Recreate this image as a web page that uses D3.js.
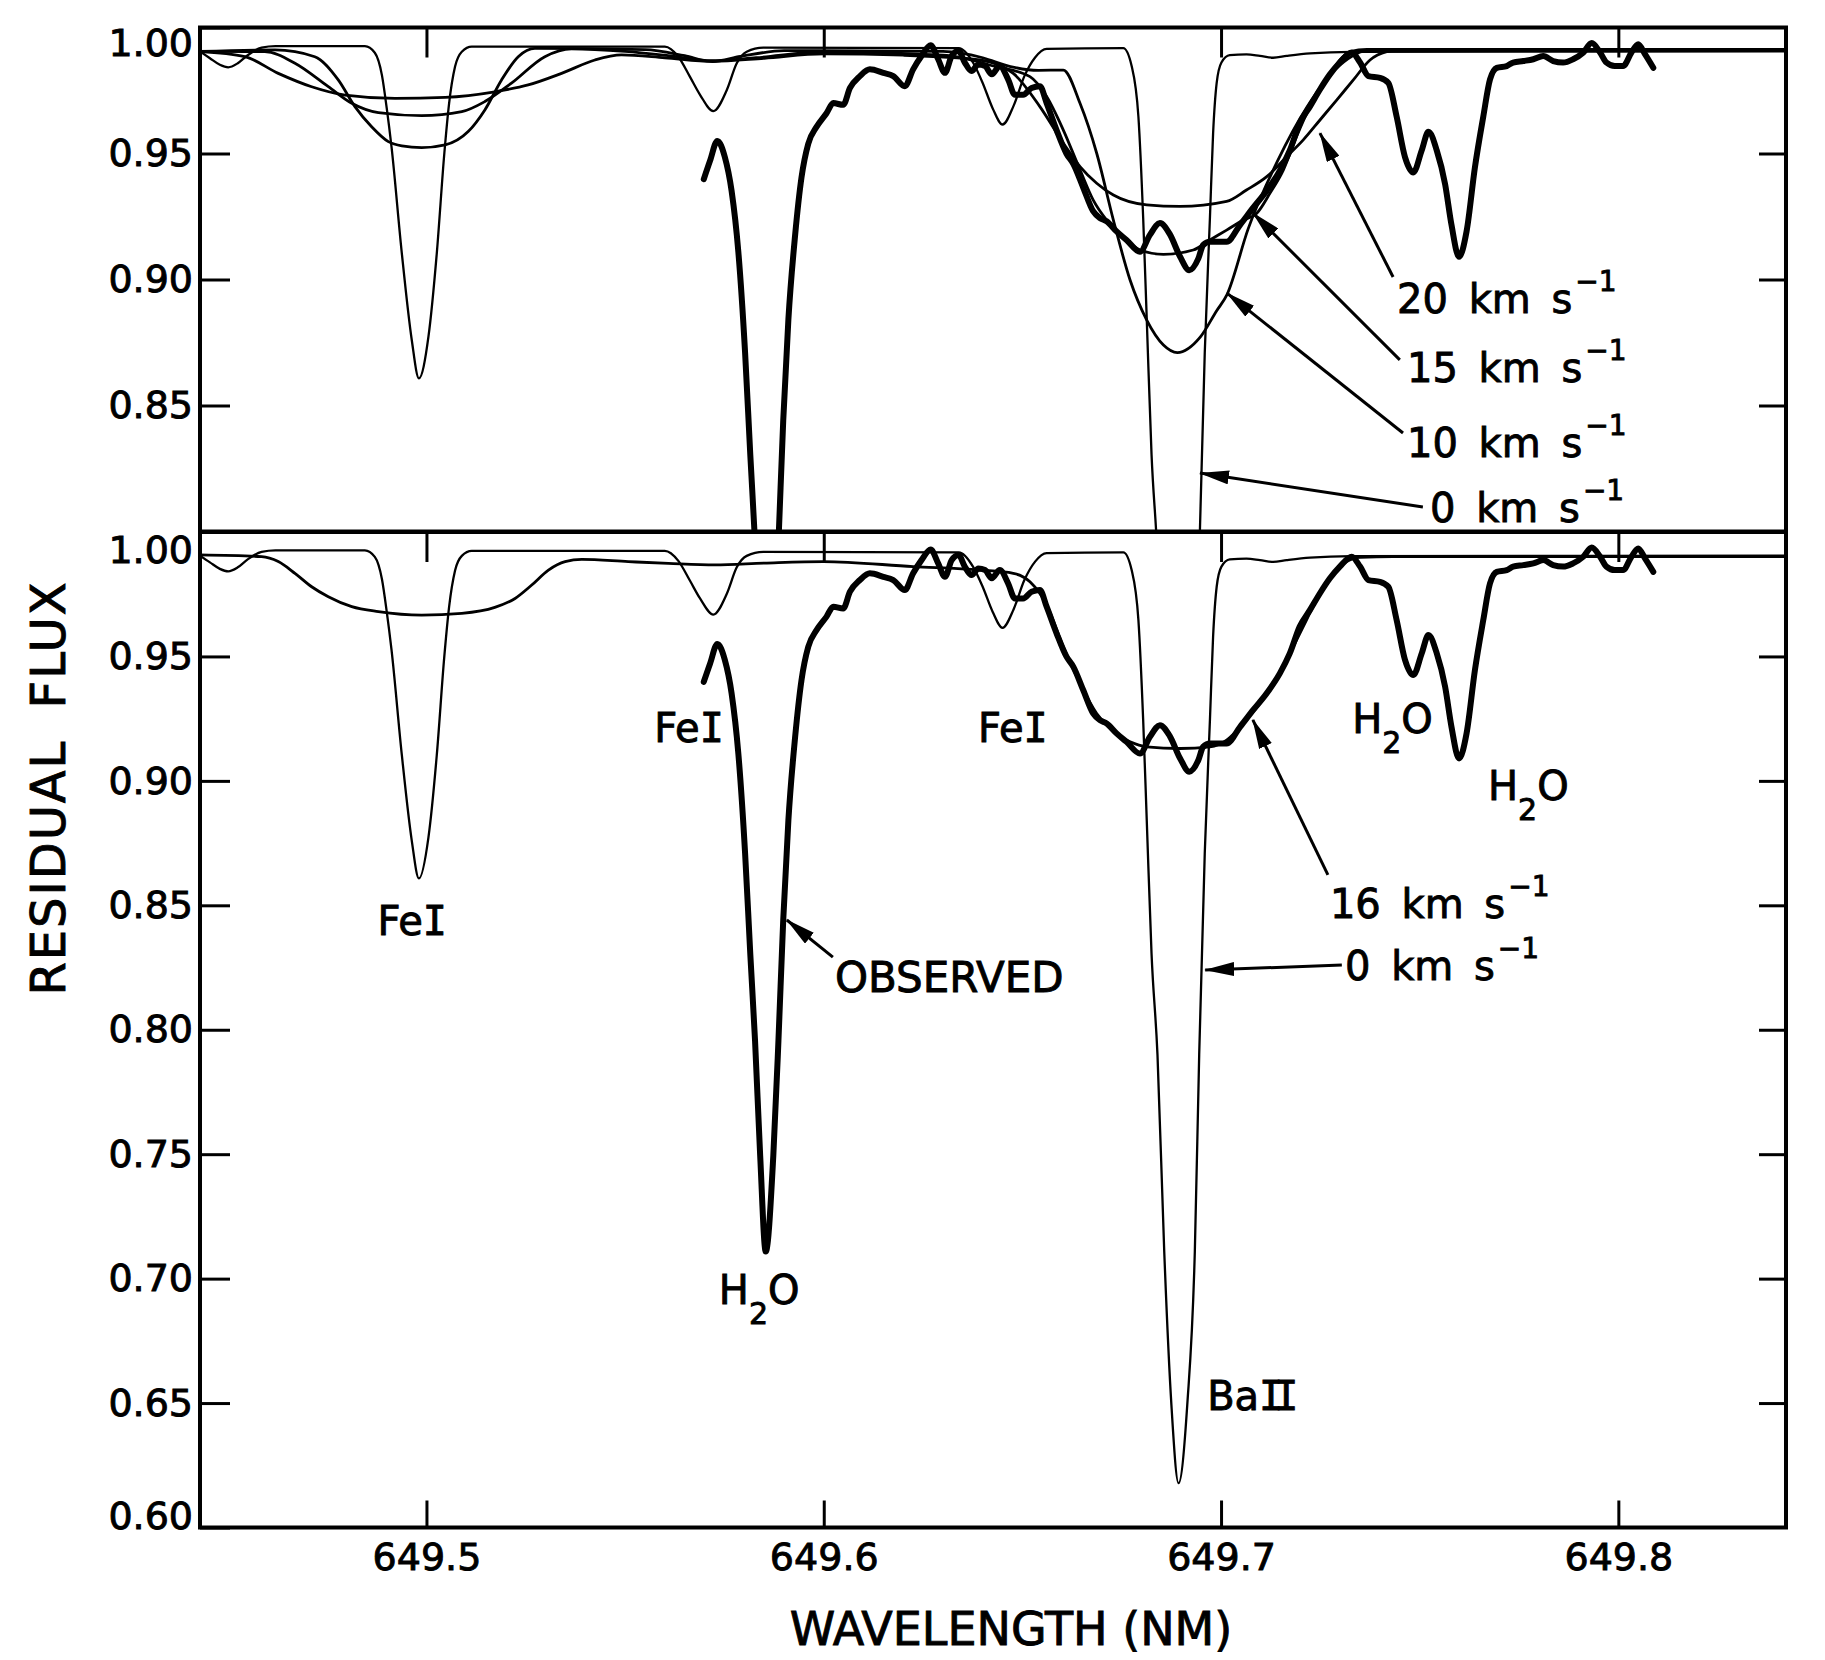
<!DOCTYPE html>
<html><head><meta charset="utf-8">
<script src="https://cdn.jsdelivr.net/npm/d3@7"></script>
<style>
html,body{margin:0;padding:0;background:#fff;}
svg{display:block;font-family:"DejaVu Sans",sans-serif;}
svg text{stroke:#000;stroke-width:0.9px;fill:#000;}
</style></head><body>
<svg id="chart" width="1825" height="1660"></svg>
<script>
// ---------------- DATA (wavelength nm, residual flux) ----------------
const wavelengthTicks = [649.5, 649.6, 649.7, 649.8];
const fluxTicksTop = [1.00, 0.95, 0.90, 0.85];
const fluxTicksBottom = [1.00, 0.95, 0.90, 0.85, 0.80, 0.75, 0.70, 0.65, 0.60];

const observed = [
[649.5698,0.9398],[649.5714,0.9472],[649.5732,0.9550],[649.5751,0.9486],[649.5768,0.9352],
[649.5785,0.9110],[649.5802,0.8710],[649.5815,0.8307],[649.5827,0.7958],[649.5840,0.7493],
[649.5854,0.7109],[649.5873,0.7493],[649.5886,0.7958],[649.5898,0.8440],[649.5911,0.8842],
[649.5928,0.9177],[649.5944,0.9405],[649.5961,0.9539],[649.5982,0.9606],[649.6007,0.9660],
[649.6024,0.9700],[649.6049,0.9693],[649.6066,0.9760],[649.6091,0.9807],[649.6116,0.9834],
[649.6150,0.9820],[649.6175,0.9807],[649.6204,0.9767],[649.6225,0.9834],[649.6246,0.9887],
[649.6269,0.9930],[649.6288,0.9874],[649.6305,0.9820],[649.6322,0.9887],[649.6339,0.9908],
[649.6355,0.9861],[649.6372,0.9827],[649.6389,0.9853],[649.6406,0.9847],[649.6423,0.9814],
[649.6443,0.9847],[649.6464,0.9794],[649.6481,0.9733],[649.6502,0.9733],[649.6523,0.9760],
[649.6544,0.9767],[649.6561,0.9700],[649.6586,0.9593],[649.6611,0.9499],[649.6628,0.9459],
[649.6653,0.9365],[649.6678,0.9271],[649.6695,0.9244],[649.6712,0.9231],[649.6737,0.9191],
[649.6762,0.9157],[649.6796,0.9110],[649.6821,0.9177],[649.6846,0.9224],[649.6871,0.9180],
[649.6897,0.9090],[649.6920,0.9037],[649.6943,0.9084],[649.6955,0.9137],[649.6972,0.9150],
[649.7014,0.9150],[649.7048,0.9217],[649.7081,0.9285],[649.7115,0.9352],[649.7148,0.9432],
[649.7173,0.9512],[649.7198,0.9620],[649.7224,0.9687],[649.7249,0.9754],[649.7274,0.9814],
[649.7299,0.9861],[649.7329,0.9901],[649.7350,0.9861],[649.7371,0.9807],[649.7400,0.9800],
[649.7421,0.9780],[649.7442,0.9646],[649.7463,0.9486],[649.7484,0.9425],[649.7505,0.9512],
[649.7522,0.9586],[649.7543,0.9512],[649.7564,0.9378],[649.7580,0.9217],[649.7599,0.9090],
[649.7618,0.9191],[649.7639,0.9445],[649.7660,0.9646],[649.7677,0.9794],[649.7694,0.9840],
[649.7719,0.9847],[649.7735,0.9861],[649.7761,0.9867],[649.7786,0.9874],[649.7811,0.9887],
[649.7836,0.9867],[649.7861,0.9861],[649.7886,0.9874],[649.7912,0.9901],[649.7933,0.9938],
[649.7954,0.9901],[649.7970,0.9861],[649.7991,0.9847],[649.8012,0.9847],[649.8033,0.9901],
[649.8050,0.9934],[649.8067,0.9894],[649.8088,0.9840]
];

const model0 = [
[649.4430,0.9905],[649.4455,0.9878],[649.4480,0.9852],[649.4501,0.9842],[649.4525,0.9858],
[649.4550,0.9890],[649.4585,0.9920],[649.4620,0.9926],[649.4845,0.9926],[649.4870,0.9900],
[649.4888,0.9810],[649.4900,0.9680],[649.4912,0.9527],[649.4938,0.9104],[649.4963,0.8760],
[649.4981,0.8608],[649.5005,0.8773],[649.5026,0.9104],[649.5045,0.9501],[649.5057,0.9699],
[649.5072,0.9845],[649.5089,0.9904],[649.5114,0.9924],[649.5600,0.9924],[649.5634,0.9884],
[649.5663,0.9805],[649.5689,0.9732],[649.5722,0.9668],[649.5756,0.9752],[649.5781,0.9858],
[649.5806,0.9904],[649.5848,0.9920],[649.6340,0.9918],[649.6376,0.9860],[649.6400,0.9780],
[649.6425,0.9680],[649.6450,0.9615],[649.6478,0.9690],[649.6505,0.9807],[649.6532,0.9881],
[649.6561,0.9915],[649.6754,0.9918],[649.6775,0.9847],[649.6792,0.9646],[649.6804,0.9244],
[649.6813,0.8842],[649.6825,0.8307],[649.6840,0.7900],[649.6857,0.7109],[649.6875,0.6494],
[649.6893,0.6178],[649.6915,0.6494],[649.6934,0.7109],[649.6945,0.7900],[649.6959,0.8709],
[649.6972,0.9244],[649.6980,0.9580],[649.6989,0.9780],[649.7001,0.9861],[649.7022,0.9890],
[649.7064,0.9893],[649.7098,0.9887],[649.7131,0.9880],[649.7165,0.9887],[649.7224,0.9897],
[649.7329,0.9903],[649.8422,0.9905]
];

const model10 = [
[649.4430,0.9905],[649.4619,0.9911],[649.4719,0.9884],[649.4778,0.9792],[649.4820,0.9686],
[649.4862,0.9606],[649.4904,0.9547],[649.4938,0.9530],[649.4988,0.9523],[649.5047,0.9534],
[649.5105,0.9587],[649.5147,0.9673],[649.5189,0.9792],[649.5231,0.9884],[649.5273,0.9917],
[649.5550,0.9912],[649.5650,0.9888],[649.5720,0.9865],[649.5790,0.9885],[649.5900,0.9908],
[649.6300,0.9905],[649.6400,0.9880],[649.6470,0.9845],[649.6540,0.9830],[649.6603,0.9831],
[649.6645,0.9699],[649.6687,0.9501],[649.6729,0.9236],[649.6771,0.8998],[649.6813,0.8839],
[649.6855,0.8740],[649.6890,0.8710],[649.6947,0.8770],[649.6989,0.8876],[649.7015,0.8940],
[649.7068,0.9200],[649.7142,0.9470],[649.7216,0.9684],[649.7299,0.9850],[649.7375,0.9910],
[649.8422,0.9912]
];

const model15 = [
[649.4430,0.9905],[649.4593,0.9904],[649.4669,0.9858],[649.4753,0.9765],[649.4812,0.9699],
[649.4879,0.9662],[649.4988,0.9650],[649.5089,0.9666],[649.5147,0.9706],[649.5214,0.9779],
[649.5298,0.9884],[649.5365,0.9915],[649.5500,0.9905],[649.5600,0.9890],[649.5720,0.9868],
[649.5830,0.9880],[649.6000,0.9903],[649.6300,0.9890],[649.6435,0.9844],[649.6519,0.9805],
[649.6561,0.9726],[649.6603,0.9593],[649.6645,0.9435],[649.6678,0.9316],[649.6712,0.9236],
[649.6754,0.9170],[649.6796,0.9117],[649.6855,0.9100],[649.6930,0.9117],[649.6972,0.9157],
[649.7014,0.9196],[649.7056,0.9236],[649.7090,0.9263],[649.7123,0.9342],[649.7157,0.9435],
[649.7190,0.9567],[649.7224,0.9686],[649.7266,0.9792],[649.7299,0.9871],[649.7325,0.9904],
[649.7367,0.9913],[649.8422,0.9913]
];

const model20 = [
[649.4430,0.9904],[649.4543,0.9884],[649.4627,0.9818],[649.4711,0.9765],[649.4795,0.9732],
[649.4921,0.9719],[649.5047,0.9723],[649.5172,0.9745],[649.5256,0.9772],[649.5340,0.9818],
[649.5424,0.9871],[649.5491,0.9891],[649.5600,0.9880],[649.5720,0.9866],[649.5850,0.9878],
[649.6000,0.9895],[649.6200,0.9890],[649.6393,0.9871],[649.6477,0.9818],[649.6544,0.9686],
[649.6603,0.9541],[649.6645,0.9448],[649.6687,0.9382],[649.6729,0.9335],[649.6813,0.9296],
[649.6897,0.9290],[649.7014,0.9310],[649.7064,0.9355],[649.7115,0.9408],[649.7165,0.9487],
[649.7207,0.9554],[649.7249,0.9633],[649.7291,0.9712],[649.7333,0.9792],[649.7375,0.9871],
[649.7417,0.9904],[649.7450,0.9911],[649.8422,0.9911]
];

const model16 = [
[649.4430,0.9908],[649.4585,0.9901],[649.4627,0.9881],[649.4669,0.9834],[649.4711,0.9780],
[649.4753,0.9740],[649.4812,0.9700],[649.4879,0.9680],[649.4988,0.9666],[649.5089,0.9673],
[649.5172,0.9697],[649.5223,0.9733],[649.5265,0.9787],[649.5307,0.9847],[649.5349,0.9881],
[649.5391,0.9890],[649.5508,0.9881],[649.5609,0.9874],[649.5726,0.9868],[649.5850,0.9875],
[649.5999,0.9881],[649.6225,0.9861],[649.6393,0.9847],[649.6477,0.9834],[649.6519,0.9800],
[649.6561,0.9707],[649.6603,0.9539],[649.6645,0.9392],[649.6687,0.9271],[649.6729,0.9197],
[649.6771,0.9157],[649.6813,0.9137],[649.6897,0.9130],[649.6972,0.9137],[649.7014,0.9164],
[649.7056,0.9231],[649.7098,0.9311],[649.7140,0.9405],[649.7182,0.9539],[649.7215,0.9646],
[649.7249,0.9754],[649.7282,0.9827],[649.7316,0.9881],[649.7350,0.9898],[649.7433,0.9901],
[649.8422,0.9901]
];

// annotations (data coordinates)
const topSpeedLabels = ["20", "15", "10", "0"];
const topLabelAnchor = [[649.7443,0.8867],[649.7468,0.8593],[649.7468,0.8296],[649.7526,0.8038]];
const topArrowFrom   = [[649.7433,0.9010],[649.7450,0.8681],[649.7458,0.8391],[649.7508,0.8097]];
const topArrowTip    = [[649.7249,0.9581],[649.7080,0.9264],[649.7015,0.8946],[649.6947,0.8232]];

const bottomSpeedLabels = ["16", "0"];
const bottomLabelAnchor = [[649.7274,0.8449],[649.7312,0.8200]];
const bottomArrowFrom   = [[649.7269,0.8622],[649.7304,0.8260]];
const bottomArrowTip    = [[649.7080,0.9245],[649.6960,0.8240]];

const observedLabelAnchor = [649.6028,0.8152];
const observedArrowFrom = [649.6023,0.8292];
const observedArrowTip = [649.5907,0.8441];

const speciesNames  = ["Fe","Fe","Fe","H","H","H","Ba"];
const speciesIon    = ["I","I","I","","","","II"];
const speciesAnchor = [[649.4964,0.8381],[649.5661,0.9156],[649.6476,0.9156],
                       [649.7330,0.9192],[649.7672,0.8923],[649.5736,0.6898],[649.6965,0.6472]];
const speciesAlign  = ["middle","middle","middle","start","start","start","start"];

// ---------------- LAYOUT ----------------
const svg = d3.select("#chart");
const L = 200, R = 1786;
const topT = 27.5, topB = 531.5, botT = 532, botB = 1527.5;
const x = d3.scaleLinear().domain([649.443, 649.8422]).range([L, R]);
const yTop = d3.scaleLinear().domain([0.80, 1.00]).range([topB, topT]);
const yBot = d3.scaleLinear().domain([0.60, 1.00]).range([botB, botT]);

svg.append("rect").attr("width",1825).attr("height",1660).attr("fill","#fff");

const defs = svg.append("defs");
defs.append("clipPath").attr("id","clipTop").append("rect")
  .attr("x",L).attr("y",topT).attr("width",R-L).attr("height",topB-topT);
defs.append("clipPath").attr("id","clipBot").append("rect")
  .attr("x",L).attr("y",botT).attr("width",R-L).attr("height",botB-botT);
defs.append("marker").attr("id","arrow").attr("viewBox","0 0 30 14")
  .attr("refX",29).attr("refY",7).attr("markerWidth",30).attr("markerHeight",14)
  .attr("markerUnits","userSpaceOnUse").attr("orient","auto")
  .append("path").attr("d","M0,0 L30,7 L0,14 Z").attr("fill","#000");

function drawSeries(y, clip, list) {
  const g = svg.append("g").attr("clip-path", `url(#${clip})`);
  const line = d3.line().x(d => x(d[0])).y(d => y(d[1])).curve(d3.curveMonotoneX);
  list.forEach(s => {
    g.append("path").datum(s.data).attr("d", line)
      .attr("fill","none").attr("stroke","#000").attr("stroke-width", s.w)
      .attr("stroke-linejoin","round").attr("stroke-linecap","round");
  });
}

drawSeries(yTop, "clipTop", [
  {data: model20, w: 2.8}, {data: model15, w: 2.8}, {data: model10, w: 2.8},
  {data: model0, w: 2.3}, {data: observed, w: 6}
]);
drawSeries(yBot, "clipBot", [
  {data: model16, w: 2.8}, {data: model0, w: 2.3}, {data: observed, w: 6}
]);

// frames
[[topT, topB], [botT, botB]].forEach(([t, b]) => {
  svg.append("rect").attr("x",L).attr("y",t).attr("width",R-L).attr("height",b-t)
    .attr("fill","none").attr("stroke","#000").attr("stroke-width",4);
});

function styleAxis(g) {
  g.select(".domain").remove();
  g.selectAll(".tick line").attr("stroke","#000").attr("stroke-width",3);
  g.selectAll(".tick text").attr("fill","#000").attr("font-size",38)
    .attr("font-family","DejaVu Sans, sans-serif");
}

// left axes
const fmt2 = d3.format(".2f");
const gLT = svg.append("g").attr("transform",`translate(${L},0)`)
  .call(d3.axisLeft(yTop).tickValues(fluxTicksTop).tickSize(-30).tickSizeOuter(0).tickPadding(7).tickFormat(fmt2));
styleAxis(gLT);
gLT.selectAll(".tick text").filter(d => d === 1.00).attr("transform","translate(0,16)");

const gLB = svg.append("g").attr("transform",`translate(${L},0)`)
  .call(d3.axisLeft(yBot).tickValues(fluxTicksBottom).tickSize(-30).tickSizeOuter(0).tickPadding(7).tickFormat(fmt2));
styleAxis(gLB);
gLB.selectAll(".tick text").filter(d => d === 1.00).attr("transform","translate(0,18)");
gLB.selectAll(".tick text").filter(d => d === 0.60).attr("transform","translate(0,-11)");

// right axes (ticks only)
const gRT = svg.append("g").attr("transform",`translate(${R},0)`)
  .call(d3.axisRight(yTop).tickValues([0.95,0.90,0.85]).tickSize(-27).tickSizeOuter(0).tickFormat(""));
styleAxis(gRT);
const gRB = svg.append("g").attr("transform",`translate(${R},0)`)
  .call(d3.axisRight(yBot).tickValues([0.95,0.90,0.85,0.80,0.75,0.70,0.65]).tickSize(-27).tickSizeOuter(0).tickFormat(""));
styleAxis(gRB);

// top ticks of both panels
[topT, botT].forEach(t => {
  const g = svg.append("g").attr("transform",`translate(0,${t})`)
    .call(d3.axisTop(x).tickValues(wavelengthTicks).tickSize(-30).tickSizeOuter(0).tickFormat(""));
  styleAxis(g);
});
// bottom axis
const gB = svg.append("g").attr("transform",`translate(0,${botB})`)
  .call(d3.axisBottom(x).tickValues(wavelengthTicks).tickSize(-27).tickSizeOuter(0).tickPadding(16).tickFormat(d3.format(".1f")));
styleAxis(gB);

// axis titles
svg.append("text").attr("transform","translate(65,788) rotate(-90)")
  .attr("text-anchor","middle").attr("font-size",48).attr("letter-spacing",2)
  .attr("word-spacing",14).text("RESIDUAL FLUX");
svg.append("text").attr("x",1011).attr("y",1645).attr("text-anchor","middle")
  .attr("font-size",46).text("WAVELENGTH (NM)");

// arrows + speed labels
function arrow(from, tip, y) {
  svg.append("line").attr("x1",x(from[0])).attr("y1",y(from[1]))
    .attr("x2",x(tip[0])).attr("y2",y(tip[1]))
    .attr("stroke","#000").attr("stroke-width",3).attr("marker-end","url(#arrow)");
}
function speedLabel(txt, anchor, y) {
  const t = svg.append("text").attr("x",x(anchor[0])).attr("y",y(anchor[1]))
    .attr("font-size",40).attr("word-spacing",8);
  t.append("tspan").text(txt + " km s");
  t.append("tspan").attr("dx",3).attr("dy",-22).attr("font-size",28).text("\u22121");
}
topSpeedLabels.forEach((s,i) => {
  arrow(topArrowFrom[i], topArrowTip[i], yTop);
  speedLabel(s, topLabelAnchor[i], yTop);
});
bottomSpeedLabels.forEach((s,i) => {
  arrow(bottomArrowFrom[i], bottomArrowTip[i], yBot);
  speedLabel(s, bottomLabelAnchor[i], yBot);
});
arrow(observedArrowFrom, observedArrowTip, yBot);
svg.append("text").attr("x",x(observedLabelAnchor[0])).attr("y",yBot(observedLabelAnchor[1]))
  .attr("font-size",42).text("OBSERVED");

// species labels
speciesNames.forEach((n,i) => {
  const t = svg.append("text").attr("x",x(speciesAnchor[i][0])).attr("y",yBot(speciesAnchor[i][1]))
    .attr("font-size",40).attr("text-anchor",speciesAlign[i]);
  if (n === "H") {
    t.append("tspan").text("H");
    t.append("tspan").attr("dy",20).attr("font-size",30).text("2");
    t.append("tspan").attr("dy",-20).text("O");
  } else {
    t.append("tspan").text(n);
    t.append("tspan").attr("font-family","DejaVu Sans Mono, monospace")
      .attr("letter-spacing", speciesIon[i].length > 1 ? -9 : 0).text(speciesIon[i]);
  }
});
</script>
</body></html>
